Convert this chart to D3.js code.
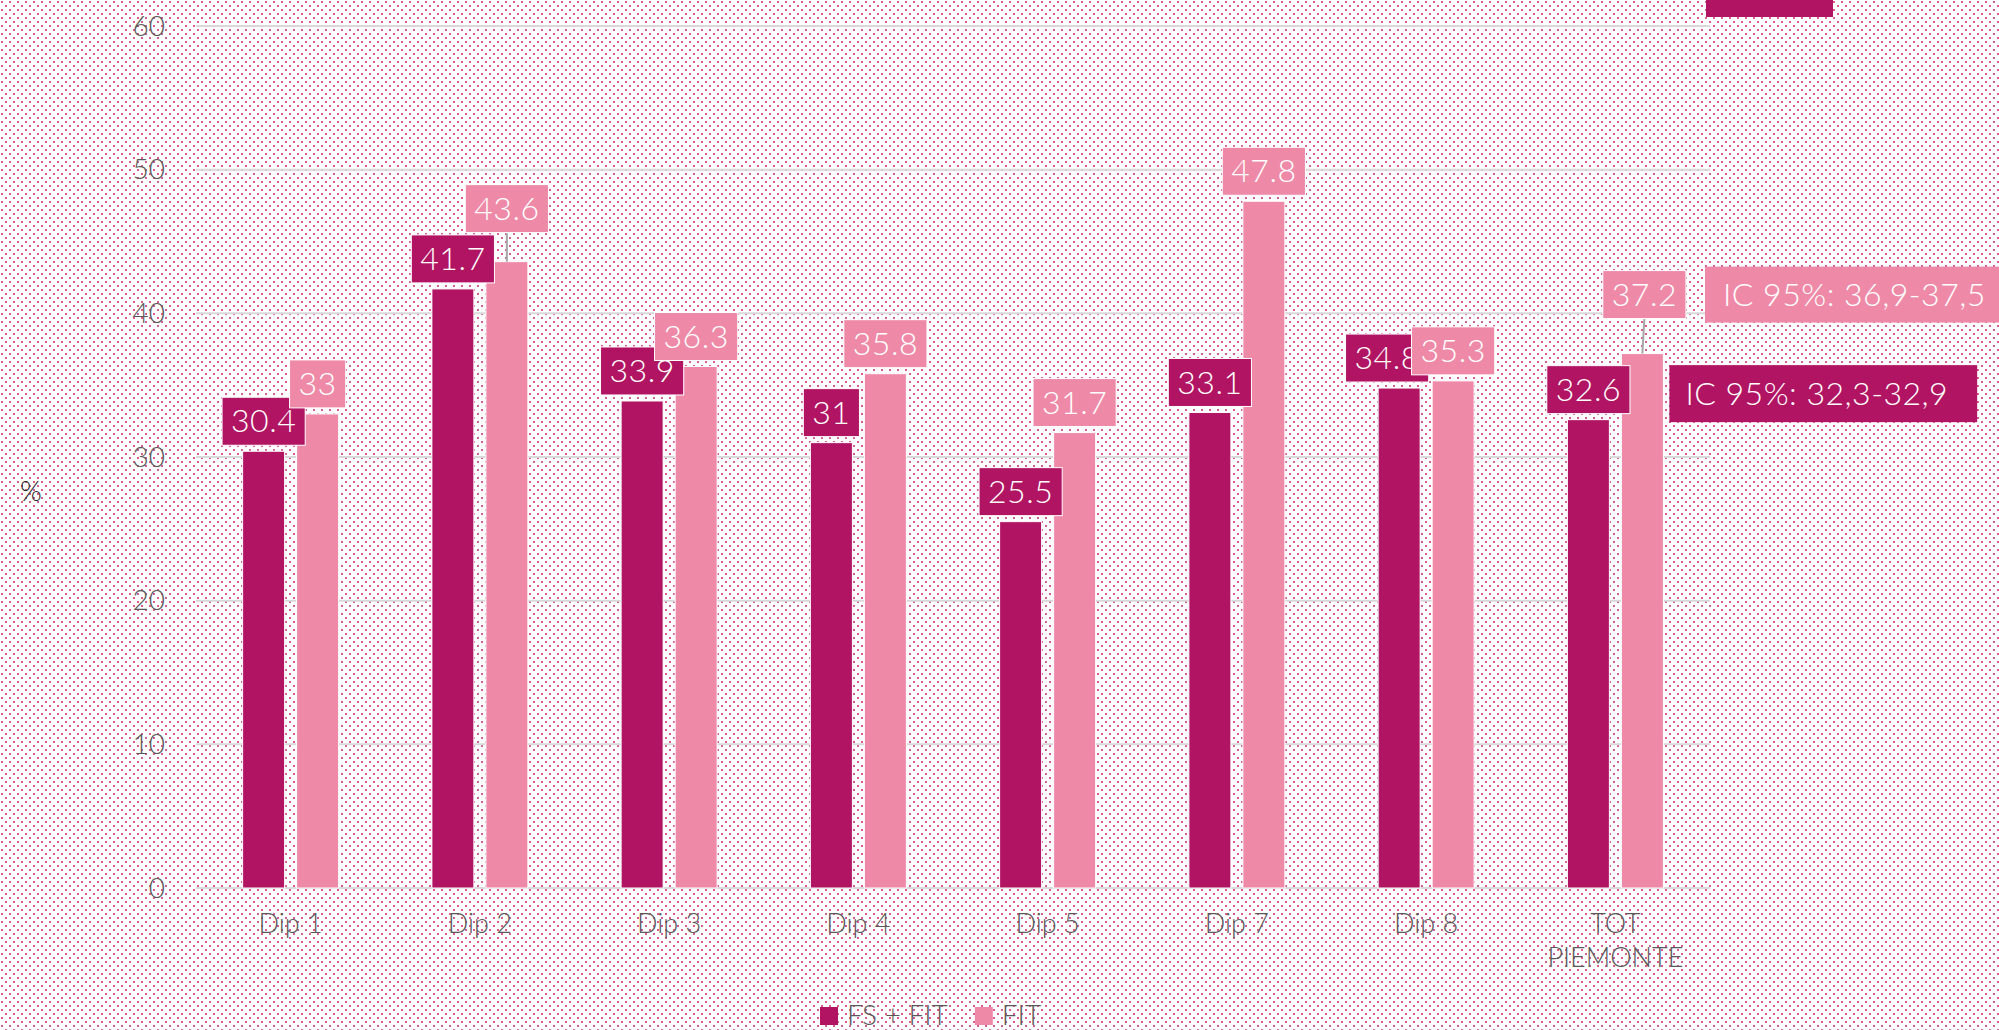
<!DOCTYPE html>
<html>
<head>
<meta charset="utf-8">
<script src="https://cdnjs.cloudflare.com/ajax/libs/d3/7.8.5/d3.min.js"></script>
<style>
  html, body { margin: 0; padding: 0; background: #fff; }
  svg text { font-family: Lato, "Open Sans", sans-serif; font-weight: 300; }
</style>
</head>
<body>
<div id="my_chart"></div>
<script>

// ======================= //
// DATA
// ======================= //

var categories = ["Dip 1", "Dip 2", "Dip 3", "Dip 4", "Dip 5", "Dip 7", "Dip 8", "TOT PIEMONTE"]
var seriesNames = ["FS + FIT", "FIT"]
var valuesFsFit = [30.4, 41.7, 33.9, 31, 25.5, 33.1, 34.8, 32.6]
var valuesFit = [33, 43.6, 36.3, 35.8, 31.7, 47.8, 35.3, 37.2]
var yTicks = [0, 10, 20, 30, 40, 50, 60]
var ciLabels = ["IC 95%: 32,3-32,9", "IC 95%: 36,9-37,5"]
var yTitle = "%"

var colors = { "FS + FIT": "#b11463", "FIT": "#ee8aa8" }

// ======================= //
// SVG AREA
// ======================= //

var W = 1999, H = 1030
var margin = {top: 26, right: 289, bottom: 142, left: 196},
  width = W - margin.left - margin.right,
  height = H - margin.top - margin.bottom;

var svg = d3.select("#my_chart")
  .append("svg")
    .attr("width", W)
    .attr("height", H)

// dotted background
var defs = svg.append("defs")
var pat = defs.append("pattern")
    .attr("id", "dots")
    .attr("patternUnits", "userSpaceOnUse")
    .attr("width", 8)
    .attr("height", 8)
pat.append("rect").attr("width", 8).attr("height", 8).attr("fill", "#fff")
pat.append("rect").attr("x", 1).attr("y", 1).attr("width", 2).attr("height", 2).attr("fill", "#c4186a").attr("fill-opacity", 0.7)
pat.append("rect").attr("x", 5).attr("y", 5).attr("width", 2).attr("height", 2).attr("fill", "#c4186a").attr("fill-opacity", 0.7)

svg.append("rect")
    .attr("width", W)
    .attr("height", H)
    .attr("fill", "url(#dots)")

var g = svg.append("g")
  .attr("transform", "translate(" + margin.left + "," + margin.top + ")")

// ======================= //
// SCALES
// ======================= //

var x0 = d3.scaleBand()
  .domain(categories)
  .range([0, width])
  .padding(0)

var groupW = 96
var x1 = d3.scaleBand()
  .domain(seriesNames)
  .range([0, groupW])
  .paddingInner(12 / 54)
  .paddingOuter(0)

var y = d3.scaleLinear()
  .domain([0, 60])
  .range([height, 0])

var groupOffset = (x0.bandwidth() - groupW) / 2

// ======================= //
// GRID + AXES
// ======================= //

g.selectAll(".grid")
  .data(yTicks)
  .enter()
  .append("line")
    .attr("x1", 0)
    .attr("x2", width)
    .attr("y1", function(d){ return y(d) })
    .attr("y2", function(d){ return y(d) })
    .style("stroke", "#d9d9d9")
    .style("stroke-width", 2)

g.selectAll(".ytick")
  .data(yTicks)
  .enter()
  .append("text")
    .text(function(d){ return d })
    .attr("x", -31)
    .attr("y", function(d){ return y(d) })
    .attr("dy", "0.35em")
    .style("text-anchor", "end")
    .style("font-size", "28px")
    .style("fill", "#595959")

svg.append("text")
    .text(yTitle)
    .attr("x", 31)
    .attr("y", 491)
    .attr("dy", "0.35em")
    .style("text-anchor", "middle")
    .style("font-size", "28px")
    .style("fill", "#262626")

var xLab = g.selectAll(".xlabel")
  .data(categories)
  .enter()
  .append("text")
    .attr("x", function(d){ return x0(d) + x0.bandwidth() / 2 })
    .attr("y", height + 45)
    .style("text-anchor", "middle")
    .style("font-size", "27px")
    .style("fill", "#595959")

xLab.each(function(d){
  var words = d.length > 10 ? d.split(" ") : [d]
  var t = d3.select(this)
  words.forEach(function(w, i){
    t.append("tspan")
      .attr("x", x0(d) + x0.bandwidth() / 2)
      .attr("dy", i == 0 ? 0 : 34)
      .text(w)
  })
})

// ======================= //
// BARS
// ======================= //

var rows = []
categories.forEach(function(c, i){
  rows.push({cat: c, s: "FS + FIT", v: valuesFsFit[i], idx: i})
  rows.push({cat: c, s: "FIT", v: valuesFit[i], idx: i})
})

function barX(d){ return x0(d.cat) + groupOffset + x1(d.s) }

g.selectAll(".bar")
  .data(rows)
  .enter()
  .append("rect")
    .attr("x", barX)
    .attr("y", function(d){ return y(d.v) })
    .attr("width", x1.bandwidth())
    .attr("height", function(d){ return height - y(d.v) })
    .style("fill", function(d){ return colors[d.s] })
    .style("stroke", "#fff")
    .style("stroke-width", 1)

// ======================= //
// DATA LABELS
// ======================= //

// manual nudges (label moved as in the original)
function nudge(d){
  if (d.cat == "Dip 2" && d.s == "FIT") return {dx: 0, dy: -23}
  if (d.cat == "TOT PIEMONTE" && d.s == "FIT") return {dx: 2, dy: -29}
  if (d.cat == "Dip 8" && d.s == "FS + FIT") return {dx: -12, dy: 0}
  return {dx: 0, dy: 0}
}

var boxH = 48, gapAbove = 6, padX = 9
var labelBoxes = {}

seriesNames.forEach(function(sName){
  var sub = rows.filter(function(d){ return d.s == sName })
  sub.forEach(function(d){
    var n = nudge(d)
    var cx = barX(d) + x1.bandwidth() / 2 + n.dx
    var bottom = y(d.v) - gapAbove + n.dy
    var lg = g.append("g")
    if (n.dy != 0) {
      lg.append("line")
        .attr("x1", cx).attr("x2", barX(d) + x1.bandwidth() / 2)
        .attr("y1", bottom).attr("y2", y(d.v))
        .style("stroke", "#a6a6a6")
        .style("stroke-width", 2)
    }
    var rect = lg.append("rect")
    var txt = lg.append("text")
        .text(d.v)
        .attr("x", cx)
        .attr("y", bottom - boxH / 2)
        .attr("dy", "0.35em")
        .style("text-anchor", "middle")
        .style("font-size", "32px")
        .style("letter-spacing", "0.5px")
        .style("fill", "#fff")
    var tw = txt.node().getComputedTextLength()
    rect
      .attr("x", cx - tw / 2 - padX)
      .attr("y", bottom - boxH)
      .attr("width", tw + 2 * padX)
      .attr("height", boxH)
      .style("fill", colors[d.s])
      .style("stroke", "#fff")
      .style("stroke-width", 1)
    labelBoxes[d.cat + "|" + d.s] = {x: cx - tw / 2 - padX, y: bottom - boxH, w: tw + 2 * padX, h: boxH}
  })
})

// ======================= //
// CONFIDENCE INTERVAL NOTES
// ======================= //

var totCat = categories[categories.length - 1]
var totFitBar = {cat: totCat, s: "FIT"}
var ciH = 57

// FS + FIT note, next to the FIT bar
var darkRef = labelBoxes[totCat + "|FS + FIT"]
var darkX = barX(totFitBar) + x1.bandwidth() + 6
var darkCy = darkRef.y + darkRef.h / 2 + 4
var ciDark = g.append("g")
var ciDarkRect = ciDark.append("rect")
var ciDarkTxt = ciDark.append("text")
    .text(ciLabels[0])
    .attr("x", darkX + 16)
    .attr("y", darkCy)
    .attr("dy", "0.35em")
    .style("font-size", "32px")
    .style("letter-spacing", "0.5px")
    .style("fill", "#fff")
var dw = ciDarkTxt.node().getComputedTextLength()
ciDarkRect
    .attr("x", darkX)
    .attr("y", darkCy - ciH / 2)
    .attr("width", dw + 45)
    .attr("height", ciH)
    .style("fill", colors["FS + FIT"])

// FIT note, next to the FIT label
var lightRef = labelBoxes[totCat + "|FIT"]
var lightX = lightRef.x + lightRef.w + 19
var lightCy = lightRef.y + lightRef.h / 2
var ciLight = g.append("g")
var ciLightRect = ciLight.append("rect")
var ciLightTxt = ciLight.append("text")
    .text(ciLabels[1])
    .attr("x", lightX + 18)
    .attr("y", lightCy)
    .attr("dy", "0.35em")
    .style("font-size", "32px")
    .style("letter-spacing", "0.5px")
    .style("fill", "#fff")
var lw = ciLightTxt.node().getComputedTextLength()
ciLightRect
    .attr("x", lightX)
    .attr("y", lightCy - 28)
    .attr("width", lw + 60)
    .attr("height", 56)
    .style("fill", colors["FIT"])

// cut-off box at the top right
svg.append("rect")
    .attr("x", margin.left + width - 4)
    .attr("y", -10)
    .attr("width", 127)
    .attr("height", 27)
    .style("fill", colors["FS + FIT"])

// ======================= //
// LEGEND
// ======================= //

var legend = svg.append("g")
var lx = 820
seriesNames.forEach(function(sName){
  legend.append("rect")
    .attr("x", lx)
    .attr("y", 1007)
    .attr("width", 18)
    .attr("height", 18)
    .style("fill", colors[sName])
  var t = legend.append("text")
    .text(sName)
    .attr("x", lx + 27)
    .attr("y", 1025)
    .style("font-size", "28px")
    .style("fill", "#595959")
  lx = lx + 27 + t.node().getComputedTextLength() + 27
})

</script>
</body>
</html>
